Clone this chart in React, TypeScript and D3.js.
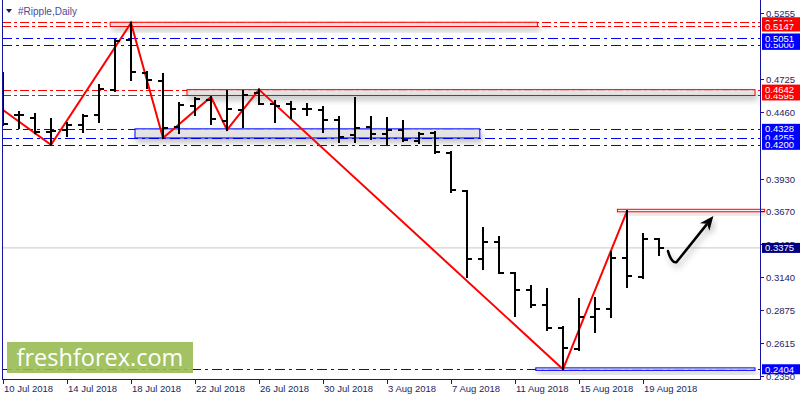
import { useEffect, useRef } from "react"
import * as d3 from "d3"

// daily bars, first bar is 10 Jul 2018
const firstDay = new Date(Date.UTC(2018, 6, 10))
const opens = [
  0.4450, 0.4439, 0.4415, 0.4300, 0.4319, 0.4359, 0.4439, 0.4639, 0.5039, 0.4775,
  0.4711, 0.4343, 0.4511, 0.4559, 0.4391, 0.4479, 0.4615, 0.4527, 0.4527, 0.4487,
  0.4479, 0.4399, 0.4279, 0.4343, 0.4287, 0.4319, 0.4231, 0.4295, 0.4135, 0.3831,
  0.3286, 0.3422, 0.3174, 0.3038, 0.2918, 0.2734, 0.2566, 0.2822, 0.2886, 0.3294,
  0.3142, 0.3446,
]
const highs = [
  0.4775, 0.4463, 0.4447, 0.4407, 0.4375, 0.4439, 0.4679, 0.5039, 0.5176, 0.4783,
  0.4767, 0.4535, 0.4575, 0.4583, 0.4631, 0.4631, 0.4642, 0.4551, 0.4543, 0.4527,
  0.4503, 0.4423, 0.4575, 0.4423, 0.4415, 0.4391, 0.4295, 0.4303, 0.4143, 0.3831,
  0.3534, 0.3462, 0.3174, 0.3070, 0.3046, 0.2742, 0.2966, 0.2974, 0.3342, 0.3670,
  0.3486, 0.3446,
]
const lows = [
  0.4359, 0.4335, 0.4292, 0.4200, 0.4271, 0.4303, 0.4383, 0.4631, 0.4719, 0.4655,
  0.4255, 0.4295, 0.4439, 0.4367, 0.4319, 0.4343, 0.4527, 0.4383, 0.4415, 0.4439,
  0.4303, 0.4223, 0.4223, 0.4247, 0.4207, 0.4231, 0.4215, 0.4135, 0.3823, 0.3142,
  0.3206, 0.3174, 0.2830, 0.2902, 0.2718, 0.2404, 0.2558, 0.2702, 0.2822, 0.3062,
  0.3134, 0.3318,
]
const closes = [
  0.4367, 0.4439, 0.4303, 0.4310, 0.4359, 0.4431, 0.4647, 0.5031, 0.4783, 0.4719,
  0.4335, 0.4519, 0.4567, 0.4407, 0.4487, 0.4599, 0.4527, 0.4511, 0.4487, 0.4487,
  0.4399, 0.4263, 0.4335, 0.4287, 0.4319, 0.4239, 0.4287, 0.4143, 0.3839, 0.3286,
  0.3422, 0.3174, 0.3038, 0.2918, 0.2734, 0.2574, 0.2822, 0.2886, 0.3294, 0.3150,
  0.3446, 0.3375,
]

// zigzag pivots: bar index, price
const zigzagBars = [0, 3, 8, 10, 13, 14, 16, 35, 39]
const zigzagPrices = [0.4479, 0.4200, 0.5176, 0.4255, 0.4583, 0.4319, 0.4642, 0.2404, 0.3670]

// visible price scale labels (the ones under the level boxes are left out)
const priceTicks = [0.5255, 0.4725, 0.4460, 0.3930, 0.3670, 0.3405, 0.3140, 0.2875, 0.2615, 0.2350]

// horizontal levels drawn across the chart
const redLevels = [0.5181, 0.5147, 0.4642, 0.4595]
const blueLevels = [0.5051, 0.5000, 0.4328, 0.4255, 0.4200, 0.2404]

// price labels on the axis, in drawing order (later ones cover earlier)
const labelValues = [0.5181, 0.5147, 0.5000, 0.5051, 0.4595, 0.4642, 0.4255, 0.4328, 0.4200, 0.3375, 0.2404]
const labelColors = ["#ff0000", "#ff0000", "#0000ff", "#0000ff", "#ff0000", "#ff0000", "#0000ff", "#0000ff", "#0000ff", "#000080", "#0000ff"]

// zones: from bar, to bar, top, bottom, border colour
const zoneFrom = [6.7, 11.5, 8.25, 33.3, 38.4]
const zoneTo = [33.4, 47, 29.8, 47, 47.6]
const zoneTop = [0.5181, 0.4642, 0.4328, 0.2415, 0.3684]
const zoneBottom = [0.5147, 0.4595, 0.4255, 0.2395, 0.3664]
const zoneColors = ["#ff0000", "#ff0000", "#0000ff", "#0000ff", "#ff0000"]

// support trendline at 0.4200
const supportFrom = 1.2
const supportTo = 46.5
const supportPrice = 0.42

const currentPrice = 0.3375

// hand drawn arrow: bar index / price
const arrowBars = [41.56, 42.1, 44.4]
const arrowPrices = [0.3350, 0.3262, 0.3630]

export default function App() {
  const svgRef = useRef<SVGSVGElement>(null)

  useEffect(() => {
    document.body.style.margin = "0"
    if (!svgRef.current) return
    const svg = d3.select(svgRef.current)
    svg.selectAll("*").remove()

    const width = 800
    const height = 400
    const left = 2
    const right = 760
    const bottom = 379
    const font = "'Liberation Sans', Arial, sans-serif"
    const axisColor = "#1414a0"
    const textColor = "#1e1e62"

    const dayMs = 86400000
    const x = d3
      .scaleUtc()
      .domain([firstDay, new Date(+firstDay + 47.3125 * dayMs)])
      .range([3, right])
    const xi = (i: number) => x(new Date(+firstDay + i * dayMs))
    const y = d3.scaleLinear().domain([0.235, 0.5255]).range([376, 13])

    svg.append("rect").attr("width", width).attr("height", height).attr("fill", "#fff")

    const defs = svg.append("defs")
    const shadow = defs.append("filter").attr("id", "shadow").attr("x", "-10%").attr("y", "-50%").attr("width", "120%").attr("height", "300%")
    shadow
      .append("feDropShadow")
      .attr("dx", 2)
      .attr("dy", 4)
      .attr("stdDeviation", 3)
      .attr("flood-color", "#000")
      .attr("flood-opacity", 0.28)
    const clip = defs.append("clipPath").attr("id", "plot")
    clip.append("rect").attr("x", left).attr("y", 0).attr("width", width - left).attr("height", bottom)

    const plot = svg.append("g").attr("clip-path", "url(#plot)")

    // current price line
    plot
      .append("line")
      .attr("x1", left)
      .attr("x2", right)
      .attr("y1", y(currentPrice))
      .attr("y2", y(currentPrice))
      .attr("stroke", "#c8c8c8")
      .attr("stroke-width", 1)

    // dash-dot levels
    redLevels.forEach((v) => {
      plot
        .append("line")
        .attr("x1", left)
        .attr("x2", right)
        .attr("y1", Math.round(y(v)) + 0.5)
        .attr("y2", Math.round(y(v)) + 0.5)
        .attr("stroke", "#ff0000")
        .attr("stroke-width", 1)
        .attr("stroke-dasharray", "9,3,3,3")
    })
    blueLevels.forEach((v) => {
      plot
        .append("line")
        .attr("x1", left)
        .attr("x2", right)
        .attr("y1", Math.round(y(v)) + 0.5)
        .attr("y2", Math.round(y(v)) + 0.5)
        .attr("stroke", "#0000ff")
        .attr("stroke-width", 1)
        .attr("stroke-dasharray", "10,4,3,4")
    })

    // zones with shadow
    zoneFrom.forEach((f, k) => {
      plot
        .append("rect")
        .attr("x", xi(f))
        .attr("y", y(zoneTop[k]))
        .attr("width", xi(zoneTo[k]) - xi(f))
        .attr("height", Math.max(2, y(zoneBottom[k]) - y(zoneTop[k])))
        .attr("fill", "#e2e2e2")
        .attr("fill-opacity", k === 4 ? 0.3 : 0.85)
        .attr("stroke", zoneColors[k])
        .attr("stroke-width", 1)
        .attr("filter", "url(#shadow)")
    })

    // support line
    plot
      .append("line")
      .attr("x1", xi(supportFrom))
      .attr("x2", xi(supportTo))
      .attr("y1", Math.round(y(supportPrice)) + 0.5)
      .attr("y2", Math.round(y(supportPrice)) + 0.5)
      .attr("stroke", "#0000ff")
      .attr("stroke-width", 1.2)
      .attr("filter", "url(#shadow)")

    // zigzag
    const zz = zigzagBars.map((b, k) => [xi(b), y(zigzagPrices[k])] as [number, number])
    plot
      .append("path")
      .attr("d", d3.line()(zz))
      .attr("fill", "none")
      .attr("stroke", "#ff0000")
      .attr("stroke-width", 2)

    // OHLC bars
    const bars = plot.append("g").attr("stroke", "#000").attr("stroke-width", 2)
    opens.forEach((o, i) => {
      const cx = Math.round(xi(i))
      bars.append("line").attr("x1", cx).attr("x2", cx).attr("y1", y(highs[i]) - 1).attr("y2", y(lows[i]) + 1)
      bars.append("line").attr("x1", cx - 5).attr("x2", cx).attr("y1", Math.round(y(o))).attr("y2", Math.round(y(o)))
      bars.append("line").attr("x1", cx).attr("x2", cx + 5).attr("y1", Math.round(y(closes[i]))).attr("y2", Math.round(y(closes[i])))
    })

    // arrow
    const ap = arrowBars.map((b, k) => [xi(b), y(arrowPrices[k])] as [number, number])
    const arrow = plot.append("g").attr("filter", "url(#shadow)")
    const dx = ap[2][0] - ap[1][0]
    const dy = ap[2][1] - ap[1][1]
    const len = Math.hypot(dx, dy)
    const ux = dx / len
    const uy = dy / len
    const headLen = 14
    const headW = 6
    const base: [number, number] = [ap[2][0] - ux * headLen, ap[2][1] - uy * headLen]
    arrow
      .append("path")
      .attr("d", `M${ap[0][0]},${ap[0][1]} Q${ap[0][0] + 4},${ap[1][1] + 2} ${ap[1][0]},${ap[1][1]} L${base[0] + ux * 3},${base[1] + uy * 3}`)
      .attr("fill", "none")
      .attr("stroke", "#000")
      .attr("stroke-width", 2.5)
      .attr("stroke-linecap", "round")
    arrow
      .append("path")
      .attr(
        "d",
        `M${ap[2][0]},${ap[2][1]} L${base[0] - uy * headW},${base[1] + ux * headW} L${base[0] + ux * 4},${base[1] + uy * 4} L${base[0] + uy * headW},${base[1] - ux * headW} Z`
      )
      .attr("fill", "#000")

    // logo
    svg.append("rect").attr("x", 7).attr("y", 342).attr("width", 186).attr("height", 31).attr("fill", "#98bb52").attr("fill-opacity", 0.9)
    svg
      .append("text")
      .attr("x", 100)
      .attr("y", 366)
      .attr("text-anchor", "middle")
      .attr("font-family", "'Open Sans', sans-serif")
      .attr("font-size", 23.5)
      .attr("fill", "#fff")
      .text("freshforex.com")

    // frame
    svg.append("line").attr("x1", left + 0.5).attr("x2", left + 0.5).attr("y1", 0).attr("y2", bottom).attr("stroke", axisColor)
    svg.append("line").attr("x1", right + 0.5).attr("x2", right + 0.5).attr("y1", 0).attr("y2", bottom + 0.5).attr("stroke", axisColor)
    svg.append("line").attr("x1", left).attr("x2", right + 1).attr("y1", bottom + 0.5).attr("y2", bottom + 0.5).attr("stroke", axisColor)

    // price axis
    const ax = svg.append("g").attr("font-family", font).attr("font-size", 9.5).attr("fill", textColor)
    priceTicks.forEach((v) => {
      const yy = Math.round(y(v)) + 0.5
      ax.append("line").attr("x1", right).attr("x2", right + 4).attr("y1", yy).attr("y2", yy).attr("stroke", axisColor)
      ax.append("text").attr("x", 766).attr("y", yy + 3.5).text(v.toFixed(4))
    })

    labelValues.forEach((v, k) => {
      const yy = y(v)
      ax.append("rect").attr("x", 762).attr("y", yy - 5).attr("width", 38).attr("height", 10).attr("fill", labelColors[k])
      ax.append("text").attr("x", 765).attr("y", yy + 3.5).attr("fill", "#fff").text(v.toFixed(4))
    })

    // date axis
    const days = d3.utcDay.range(firstDay, new Date(+firstDay + 44 * dayMs), 4)
    const fmt = d3.utcFormat("%-d %b %Y")
    days.forEach((d) => {
      const xx = Math.round(x(d)) + 0.5
      ax.append("line").attr("x1", xx).attr("x2", xx).attr("y1", bottom).attr("y2", bottom + 5).attr("stroke", axisColor)
      ax.append("text").attr("x", xx + 0.5).attr("y", 392).text(fmt(d))
    })

    // title
    svg.append("path").attr("d", "M6,9 L12,9 L9,13 Z").attr("fill", "#1a1a60")
    svg
      .append("text")
      .attr("x", 18)
      .attr("y", 15)
      .attr("font-family", font)
      .attr("font-size", 10)
      .attr("fill", "#4a4a9a")
      .text("#Ripple,Daily")
  }, [])

  return <svg ref={svgRef} width={800} height={400} style={{ display: "block" }} />
}
